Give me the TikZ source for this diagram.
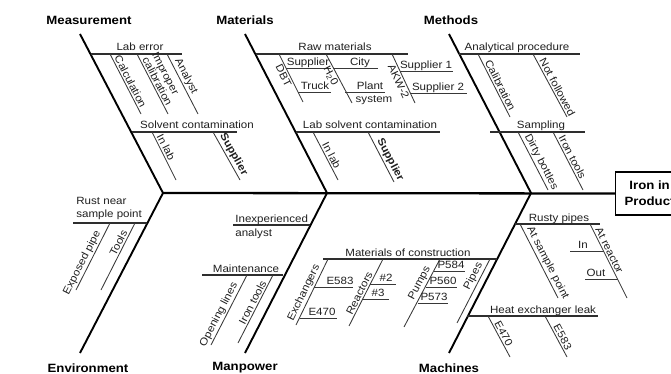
\documentclass[tikz,border=0pt]{standalone}
\usepackage{fontspec}
\setmainfont{Liberation Sans}[FakeStretch=1.1]
\begin{document}
\begin{tikzpicture}[x=1pt,y=-1pt,
  bone/.style={line width=1.9pt, black},
  spine/.style={line width=2.3pt, black},
  rib/.style={line width=1.1pt, black!82},
  twig/.style={line width=0.85pt, black!78},
  lbl/.style={font=\fontsize{10.5}{10}\selectfont, text=black!88, inner sep=1.2pt},
  hlbl/.style={lbl, anchor=base},
  cat/.style={font=\fontsize{12}{13}\selectfont\bfseries, text=black, inner sep=0pt},
  onl/.style={lbl, sloped, above, inner sep=1.5pt},
  unl/.style={lbl, sloped, below, inner sep=1.5pt},
  effectbox/.style={draw, line width=1.2pt, minimum width=68pt, minimum height=43pt,
    anchor=west, align=center, font=\fontsize{12}{16}\selectfont\bfseries},
]
\useasboundingbox (0,0) rectangle (671,374);
\clip (0,0) rectangle (671,374);

% ---------- spine, head and main bones ----------
\coordinate (hM) at (163,193);
\coordinate (hT) at (327,193);
\coordinate (hC) at (531,193);
\coordinate (mTop) at (80,34);
\coordinate (tTop) at (245,34);
\coordinate (cTop) at (449,34);
\coordinate (eBot) at (80,353);
\coordinate (pBot) at (245,353);
\coordinate (kBot) at (449,353);

\node[effectbox] (effect) at (615,193.5) {Iron in\\Product};
\draw[spine] (hM) -- (effect.west);
\draw[bone] (mTop) -- (hM) -- (eBot);
\draw[bone] (tTop) -- (hT) -- (pBot);
\draw[bone] (cTop) -- (hC) -- (kBot);

\node[cat] (catMeas) at (89,20) {Measurement};
\node[cat] (catMat)  at (245,20) {Materials};
\node[cat] (catMeth) at (451,20) {Methods};
\node[cat] (catEnv)  at (88,368) {Environment};
\node[cat] (catMan)  at (245,368) {Manpower};
\node[cat] (catMach) at (449,368) {Machines};

% ---------- Measurement ----------
\coordinate (le1) at (90.5,54);  \coordinate (le2) at (182,54);
\draw[rib] (le1) -- (le2);
\node[hlbl] (tLabErr) at (140,51) {Lab error};
\coordinate (ca1) at (110,54);  \coordinate (ca2) at (141,114);
\draw[twig] (ca1) -- (ca2) node[onl, pos=.5] (tCalc) {Calculation};
\coordinate (ic1) at (137,54);  \coordinate (ic2) at (168,114);
\draw[twig] (ic1) -- (ic2) node[onl, pos=.5, align=left, font=\fontsize{10.5}{9.5}\selectfont] (tImp) {Improper\\calibration};
\coordinate (an1) at (167,54);  \coordinate (an2) at (198,114);
\draw[twig] (an1) -- (an2) node[onl, pos=.42] (tAnal) {Analyst};

\coordinate (sc1) at (131.5,132); \coordinate (sc2) at (237,132);
\draw[rib] (sc1) -- (sc2);
\node[hlbl] (tSolv) at (197,129) {Solvent contamination};
\coordinate (ila1) at (152,132); \coordinate (ila2) at (176,180);
\draw[twig] (ila1) -- (ila2) node[onl, pos=.37] (tInLabA) {In lab};
\coordinate (spa1) at (213,132); \coordinate (spa2) at (240,180);
\draw[twig] (spa1) -- (spa2) node[onl, pos=.54, font=\fontsize{10.5}{10}\selectfont\bfseries] (tSupA) {Supplier};

% ---------- Materials ----------
\coordinate (rm1) at (255.5,54); \coordinate (rm2) at (408,54);
\draw[rib] (rm1) -- (rm2);
\node[hlbl] (tRaw) at (335,51) {Raw materials};
\coordinate (db1) at (279,54); \coordinate (db2) at (303,102);
\draw[twig] (db1) -- (db2) node[unl, pos=.4] (tDBT) {DBT};
\coordinate (su1) at (286,68); \coordinate (su2) at (331,68);
\draw[twig] (su1) -- (su2);
\node[hlbl] (tSupD) at (308,65.5) {Supplier};
\coordinate (tr1) at (298,92); \coordinate (tr2) at (331,92);
\draw[twig] (tr1) -- (tr2);
\node[hlbl] (tTruck) at (315,89.5) {Truck};
\coordinate (hw1) at (326,54); \coordinate (hw2) at (352,103);
\draw[twig] (hw1) -- (hw2) node[unl, pos=.39] (tH2O) {H\textsubscript{2}0};
\coordinate (ci1) at (333,68); \coordinate (ci2) at (378,68);
\draw[twig] (ci1) -- (ci2);
\node[hlbl] (tCity) at (360,65.5) {City};
\coordinate (pl1) at (345,92); \coordinate (pl2) at (385,92);
\draw[twig] (pl1) -- (pl2);
\node[hlbl] (tPlant) at (370,89.5) {Plant};
\node[hlbl] (tSystem) at (374,103) {system};
\coordinate (ak1) at (392,54); \coordinate (ak2) at (415,103);
\draw[twig] (ak1) -- (ak2) node[unl, pos=.51] (tAKW) {AKW-2};
\coordinate (sa1) at (400,71); \coordinate (sa2) at (453,71);
\draw[twig] (sa1) -- (sa2);
\node[hlbl] (tSup1) at (426,68.5) {Supplier 1};
\coordinate (sb1) at (410,93); \coordinate (sb2) at (467,93);
\draw[twig] (sb1) -- (sb2);
\node[hlbl] (tSup2) at (438,90.5) {Supplier 2};

\coordinate (ls1) at (296,132); \coordinate (ls2) at (440,132);
\draw[rib] (ls1) -- (ls2);
\node[hlbl] (tLabSolv) at (370,129) {Lab solvent contamination};
\coordinate (ilb1) at (313,132); \coordinate (ilb2) at (338,180);
\draw[twig] (ilb1) -- (ilb2) node[onl, pos=.54] (tInLabB) {In lab};
\coordinate (spb1) at (368,132); \coordinate (spb2) at (394,182);
\draw[twig] (spb1) -- (spb2) node[onl, pos=.62, font=\fontsize{10.5}{10}\selectfont\bfseries] (tSupB) {Supplier};

% ---------- Methods ----------
\coordinate (ap1) at (459,54); \coordinate (ap2) at (580,54);
\draw[rib] (ap1) -- (ap2);
\node[hlbl] (tAnProc) at (517,51) {Analytical procedure};
\coordinate (cl1) at (478,54); \coordinate (cl2) at (510,117);
\draw[twig] (cl1) -- (cl2) node[onl, pos=.54] (tCalib) {Calibration};
\coordinate (nf1) at (533,54); \coordinate (nf2) at (567,117);
\draw[twig] (nf1) -- (nf2) node[onl, pos=.57] (tNotF) {Not followed};
\coordinate (sm1) at (490,132); \coordinate (sm2) at (585,132);
\draw[rib] (sm1) -- (sm2);
\node[hlbl] (tSampl) at (541,129) {Sampling};
\coordinate (dt1) at (518,132); \coordinate (dt2) at (548,190);
\draw[twig] (dt1) -- (dt2) node[onl, pos=.57] (tDirty) {Dirty bottles};
\coordinate (ita1) at (553,132); \coordinate (ita2) at (583,190);
\draw[twig] (ita1) -- (ita2) node[onl, pos=.48] (tIronA) {Iron tools};

% ---------- Environment ----------
\coordinate (rn1) at (73,223); \coordinate (rn2) at (147,223);
\draw[rib] (rn1) -- (rn2);
\node[lbl, align=left, anchor=south west, font=\fontsize{10.5}{13}\selectfont] (tRust) at (75,221) {Rust near\\sample point};
\coordinate (ep1) at (110,223); \coordinate (ep2) at (76,290);
\draw[twig] (ep1) -- (ep2) node[onl, pos=.64] (tExp) {Exposed pipe};
\coordinate (to1) at (135,223); \coordinate (to2) at (101,290);
\draw[twig] (to1) -- (to2) node[onl, pos=.34] (tTools) {Tools};

% ---------- Manpower ----------
\coordinate (ia1) at (233,225); \coordinate (ia2) at (310,225);
\draw[rib] (ia1) -- (ia2);
\node[lbl, anchor=base west] (tInexp) at (234,222) {Inexperienced};
\node[lbl, anchor=base west] (tAnalyst) at (234,236) {analyst};
\coordinate (mt1) at (202,275); \coordinate (mt2) at (283,275);
\draw[rib] (mt1) -- (mt2);
\node[hlbl] (tMaint) at (246,272) {Maintenance};
\coordinate (ol1) at (247,275); \coordinate (ol2) at (211,345);
\draw[twig] (ol1) -- (ol2) node[onl, pos=.61] (tOpen) {Opening lines};
\coordinate (itb1) at (273,275); \coordinate (itb2) at (238,343);
\draw[twig] (itb1) -- (itb2) node[onl, pos=.44] (tIronB) {Iron tools};

% ---------- Machines ----------
\coordinate (mc1) at (323,259); \coordinate (mc2) at (497,259);
\draw[rib] (mc1) -- (mc2);
\node[hlbl] (tMoC) at (408,256) {Materials of construction};
\coordinate (ex1) at (328,259); \coordinate (ex2) at (296,325);
\draw[twig] (ex1) -- (ex2) node[onl, pos=.56] (tExch) {Exchangers};
\coordinate (ea1) at (314,287); \coordinate (ea2) at (353,287);
\draw[twig] (ea1) -- (ea2);
\node[hlbl] (tE583a) at (340,284.5) {E583};
\coordinate (eb1) at (300,318); \coordinate (eb2) at (337,318);
\draw[twig] (eb1) -- (eb2);
\node[hlbl] (tE470a) at (322,315.5) {E470};
\coordinate (re1) at (383,259); \coordinate (re2) at (349,326);
\draw[twig] (re1) -- (re2) node[onl, pos=.55] (tReact) {Reactors};
\coordinate (r21) at (370,284); \coordinate (r22) at (396,284);
\draw[twig] (r21) -- (r22);
\node[hlbl] (tR2) at (386,281.5) {\#2};
\coordinate (r31) at (363,299); \coordinate (r32) at (389,299);
\draw[twig] (r31) -- (r32);
\node[hlbl] (tR3) at (378,296.5) {\#3};
\coordinate (pu1) at (440,259); \coordinate (pu2) at (404,327);
\draw[twig] (pu1) -- (pu2) node[onl, pos=.4] (tPumps) {Pumps};
\coordinate (p41) at (434,271); \coordinate (p42) at (465,271);
\draw[twig] (p41) -- (p42);
\node[hlbl] (tP584) at (451,268.5) {P584};
\coordinate (p61) at (426,287); \coordinate (p62) at (457,287);
\draw[twig] (p61) -- (p62);
\node[hlbl] (tP560) at (443,284.5) {P560};
\coordinate (p71) at (418,303); \coordinate (p72) at (448,303);
\draw[twig] (p71) -- (p72);
\node[hlbl] (tP573) at (434,300.5) {P573};
\coordinate (pi1) at (490,259); \coordinate (pi2) at (457,323);
\draw[twig] (pi1) -- (pi2) node[onl, pos=.32] (tPipes) {Pipes};

\coordinate (rp1) at (515,224); \coordinate (rp2) at (600,224);
\draw[rib] (rp1) -- (rp2);
\node[hlbl] (tRusty) at (559,221) {Rusty pipes};
\coordinate (as1) at (520,224); \coordinate (as2) at (558,298);
\draw[twig] (as1) -- (as2) node[onl, pos=.57] (tAtSamp) {At sample point};
\coordinate (ar1) at (590,224); \coordinate (ar2) at (627,298);
\draw[twig] (ar1) -- (ar2) node[onl, pos=.39] (tAtReac) {At reactor};
\coordinate (in1) at (570,251); \coordinate (in2) at (604,251);
\draw[twig] (in1) -- (in2);
\node[hlbl] (tIn) at (583,248.5) {In};
\coordinate (ou1) at (585,279); \coordinate (ou2) at (618,279);
\draw[twig] (ou1) -- (ou2);
\node[hlbl] (tOut) at (596,276.5) {Out};

\coordinate (hx1) at (467,316); \coordinate (hx2) at (598,316);
\draw[rib] (hx1) -- (hx2);
\node[hlbl] (tHeat) at (543,313) {Heat exchanger leak};
\coordinate (hxa1) at (488,316); \coordinate (hxa2) at (510,357);
\draw[twig] (hxa1) -- (hxa2) node[onl, pos=.49] (tE470b) {E470};
\coordinate (hxb1) at (545,316); \coordinate (hxb2) at (567,357);
\draw[twig] (hxb1) -- (hxb2) node[onl, pos=.58] (tE583b) {E583};
\end{tikzpicture}
\end{document}
